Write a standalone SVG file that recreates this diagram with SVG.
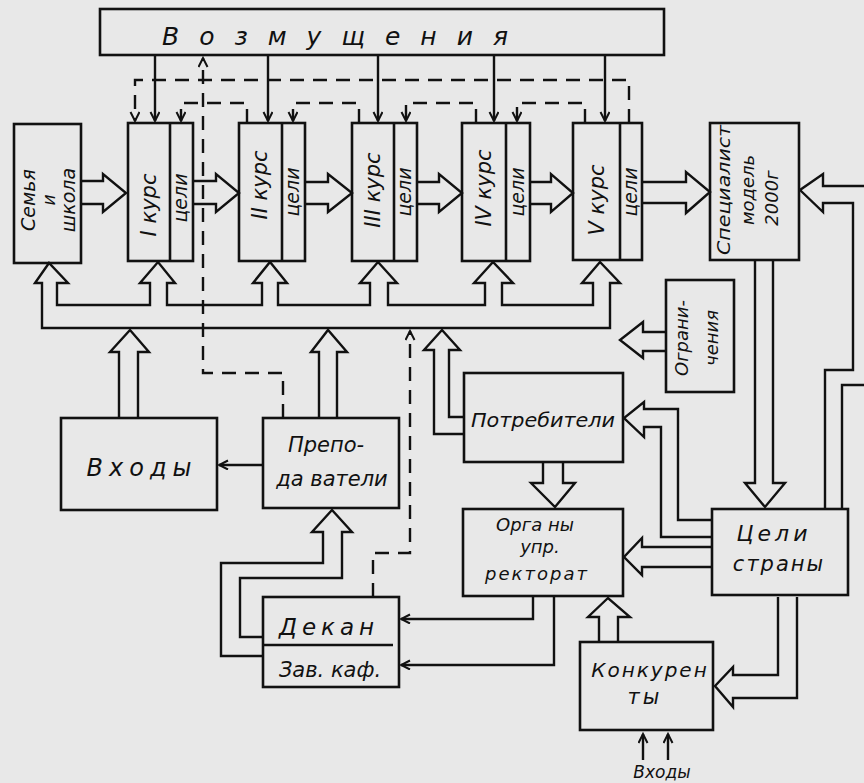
<svg xmlns="http://www.w3.org/2000/svg" width="864" height="783" viewBox="0 0 864 783">
<defs>
<style>
.bx{fill:none;stroke:#111;stroke-width:2.6}
.ln{fill:none;stroke:#111;stroke-width:2.4;stroke-linejoin:miter}
.ds{fill:none;stroke:#111;stroke-width:2.4;stroke-dasharray:14 9}
.t{font-family:"DejaVu Sans","Liberation Sans",sans-serif;font-style:italic;fill:#111;text-anchor:middle}
</style>
<marker id="ah" markerUnits="userSpaceOnUse" markerWidth="12" markerHeight="12" refX="10" refY="5" orient="auto">
<path d="M1,0.5 L10,5 L1,9.5" fill="none" stroke="#111" stroke-width="2"/>
</marker>
</defs>
<rect width="864" height="783" fill="#e8e8e8"/>

<g id="connectors">
<path class="ln" marker-end="url(#ah)" d="M155,55 V121"/>
<path class="ln" marker-end="url(#ah)" d="M268,55 V121"/>
<path class="ln" marker-end="url(#ah)" d="M378,55 V121"/>
<path class="ln" marker-end="url(#ah)" d="M494,55 V121"/>
<path class="ln" marker-end="url(#ah)" d="M605,55 V121"/>
<path class="ds" marker-end="url(#ah)" d="M629,123 V80 H135 V121"/>
<path class="ds" marker-end="url(#ah)" d="M247,123 V103 H181 V121"/>
<path class="ds" marker-end="url(#ah)" d="M359,123 V103 H293 V121"/>
<path class="ds" marker-end="url(#ah)" d="M476,123 V103 H406 V121"/>
<path class="ds" marker-end="url(#ah)" d="M585,123 V103 H517 V121"/>
<path class="ds" marker-end="url(#ah)" d="M283,418 V373 H203 V58"/>
<path class="ds" marker-end="url(#ah)" d="M373,597 V553 H410 V331"/>
<path class="ln" d="M81,181 H103 V174 L126,193 L103,212 V204 H81"/>
<path class="ln" d="M193,181 H216 V174 L239,193 L216,212 V204 H193"/>
<path class="ln" d="M305,182 H328 V174 L352,193 L328,212 V204 H305"/>
<path class="ln" d="M417,182 H439 V174 L462,193 L439,212 V204 H417"/>
<path class="ln" d="M530,182 H551 V174 L573,193 L551,212 V204 H530"/>
<path class="ln" d="M642,182 H686 V172 L710,192 L686,213 V203 H642"/>
<path class="ln" d="M42,328 V283 H35 L49,263 L68,283 H57 V305 H150 V283 H140 L158,262 L175,283 H167 V305 H262 V283 H253 L270,262 L287,283 H278 V305 H370 V283 H360 L378,262 L397,283 H388 V305 H485 V283 H474 L493,262 L513,283 H502 V305 H593 V283 H582 L600,262 L620,283 H610 V328 Z"/>
<path class="ln" d="M119,418 V352 H110 L130,330 L149,352 H138 V418"/>
<path class="ln" d="M319,418 V352 H311 L328,330 L347,352 H337 V418"/>
<path class="ln" d="M464,434 H434 V350 H424 L442,330 L460,350 H449 V417 H464"/>
<path class="ln" d="M666,332 H643 V322 L620,340 L643,358 V351 H666"/>
<path class="ln" d="M755,260 V483 H745 L765,507 L785,483 H773 V260"/>
<path class="ln" d="M825,508 V370 H853 V203 H823 V212 L800,190 L823,174 V186 H864"/>
<path class="ln" d="M842,508 V385 H864"/>
<path class="ln" d="M712,537 H661 V427 H644 V437 L624,418 L644,402 V409 H678 V520 H712"/>
<path class="ln" d="M712,567 H642 V575 L624,557 L642,538 V547 H712"/>
<path class="ln" d="M543,462 V483 H531 L555,507 L575,483 H563 V462"/>
<path class="ln" d="M599,642 V617 H588 L608,598 L630,617 H618 V642"/>
<path class="ln" d="M778,597 V675 H733 V667 L715,686 L733,707 V698 H797 V597"/>
<path class="ln" d="M263,656 H221 V563 H323 V532 H312 L332,510 L352,532 H342 V578 H240 V637 H263"/>
<path class="ln" marker-end="url(#ah)" d="M533,596 V619 H401"/>
<path class="ln" marker-end="url(#ah)" d="M554,596 V665 H401"/>
<path class="ln" marker-end="url(#ah)" d="M263,465 H219"/>
<path class="ln" marker-end="url(#ah)" d="M643,760 V734"/>
<path class="ln" marker-end="url(#ah)" d="M668,760 V734"/>
</g>

<g id="vozmushcheniya">
<rect class="bx" x="100" y="9" width="564" height="46"/>
<text class="t" x="345" y="45" font-size="25" letter-spacing="20">Возмущения</text>
</g>
<g id="semya">
<rect class="bx" x="14" y="124" width="67" height="139"/>
<g transform="translate(47,200) rotate(-90)">
<text class="t" x="0" y="-12" font-size="19">Семья</text>
<text class="t" x="0" y="8" font-size="17">и</text>
<text class="t" x="0" y="28" font-size="19">школа</text>
</g>
</g>
<g id="kurs1">
<rect class="bx" x="128" y="123" width="65" height="138"/>
<line class="bx" x1="170" y1="123" x2="170" y2="261"/>
<text class="t" transform="translate(149,205) rotate(-90)" y="7" font-size="21">I курс</text>
<text class="t" transform="translate(181,198) rotate(-90)" y="6" font-size="19">цели</text>
</g>
<g id="kurs2">
<rect class="bx" x="239" y="123" width="66" height="138"/>
<line class="bx" x1="282" y1="123" x2="282" y2="261"/>
<text class="t" transform="translate(260,185) rotate(-90)" y="7" font-size="21">II курс</text>
<text class="t" transform="translate(293,192) rotate(-90)" y="6" font-size="19">цели</text>
</g>
<g id="kurs3">
<rect class="bx" x="352" y="123" width="65" height="138"/>
<line class="bx" x1="394" y1="123" x2="394" y2="261"/>
<text class="t" transform="translate(373,190) rotate(-90)" y="7" font-size="21">III курс</text>
<text class="t" transform="translate(405,192) rotate(-90)" y="6" font-size="19">цели</text>
</g>
<g id="kurs4">
<rect class="bx" x="462" y="123" width="68" height="138"/>
<line class="bx" x1="506" y1="123" x2="506" y2="261"/>
<text class="t" transform="translate(484,188) rotate(-90)" y="7" font-size="21">IV курс</text>
<text class="t" transform="translate(518,192) rotate(-90)" y="6" font-size="19">цели</text>
</g>
<g id="kurs5">
<rect class="bx" x="573" y="123" width="69" height="137"/>
<line class="bx" x1="620" y1="123" x2="620" y2="260"/>
<text class="t" transform="translate(597,200) rotate(-90)" y="7" font-size="21">V курс</text>
<text class="t" transform="translate(631,192) rotate(-90)" y="6" font-size="19">цели</text>
</g>
<g id="specialist">
<rect class="bx" x="710" y="123" width="89" height="137"/>
<g transform="translate(755,190) rotate(-90)">
<text class="t" x="0" y="-25" font-size="18" textLength="130" lengthAdjust="spacingAndGlyphs">Специалист</text>
<text class="t" x="0" y="-1" font-size="18">модель</text>
<text class="t" x="-8" y="23" font-size="18">2000г</text>
</g>
</g>
<g id="ogranicheniya">
<rect class="bx" x="666" y="280" width="68" height="112"/>
<g transform="translate(700,338) rotate(-90)">
<text class="t" x="0" y="-12" font-size="18">Ограни-</text>
<text class="t" x="0" y="18" font-size="18">чения</text>
</g>
</g>
<g id="vkhody">
<rect class="bx" x="61" y="418" width="156" height="92"/>
<text class="t" x="142" y="476" font-size="24" letter-spacing="6">Входы</text>
</g>
<g id="prepodavateli">
<rect class="bx" x="263" y="418" width="136" height="90"/>
<text class="t" x="326" y="452" font-size="21">Препо-</text>
<text class="t" x="332" y="486" font-size="21">да ватели</text>
</g>
<g id="potrebiteli">
<rect class="bx" x="464" y="373" width="159" height="89"/>
<text class="t" x="543" y="427" font-size="20" textLength="144" lengthAdjust="spacingAndGlyphs">Потребители</text>
</g>
<g id="organy">
<rect class="bx" x="463" y="509" width="160" height="87"/>
<text class="t" x="535" y="531" font-size="18">Орга ны</text>
<text class="t" x="540" y="553" font-size="18">упр.</text>
<text class="t" x="537" y="580" font-size="18" letter-spacing="2">ректорат</text>
</g>
<g id="celi-strany">
<rect class="bx" x="712" y="509" width="136" height="86"/>
<text class="t" x="774" y="541" font-size="22" letter-spacing="4">Цели</text>
<text class="t" x="779" y="571" font-size="21" letter-spacing="2">страны</text>
</g>
<g id="dekan">
<rect class="bx" x="263" y="597" width="136" height="90"/>
<line class="bx" x1="263" y1="645" x2="393" y2="645"/>
<text class="t" x="329" y="635" font-size="23" letter-spacing="5">Декан</text>
<text class="t" x="330" y="677" font-size="21">Зав. каф.</text>
</g>
<g id="konkurenty">
<rect class="bx" x="580" y="642" width="133" height="88"/>
<text class="t" x="650" y="677" font-size="20" letter-spacing="2">Конкурен</text>
<text class="t" x="645" y="704" font-size="21" letter-spacing="3">ты</text>
</g>
<g id="vkhody-label">
<text class="t" x="662" y="778" font-size="17">Входы</text>
</g>
</svg>
